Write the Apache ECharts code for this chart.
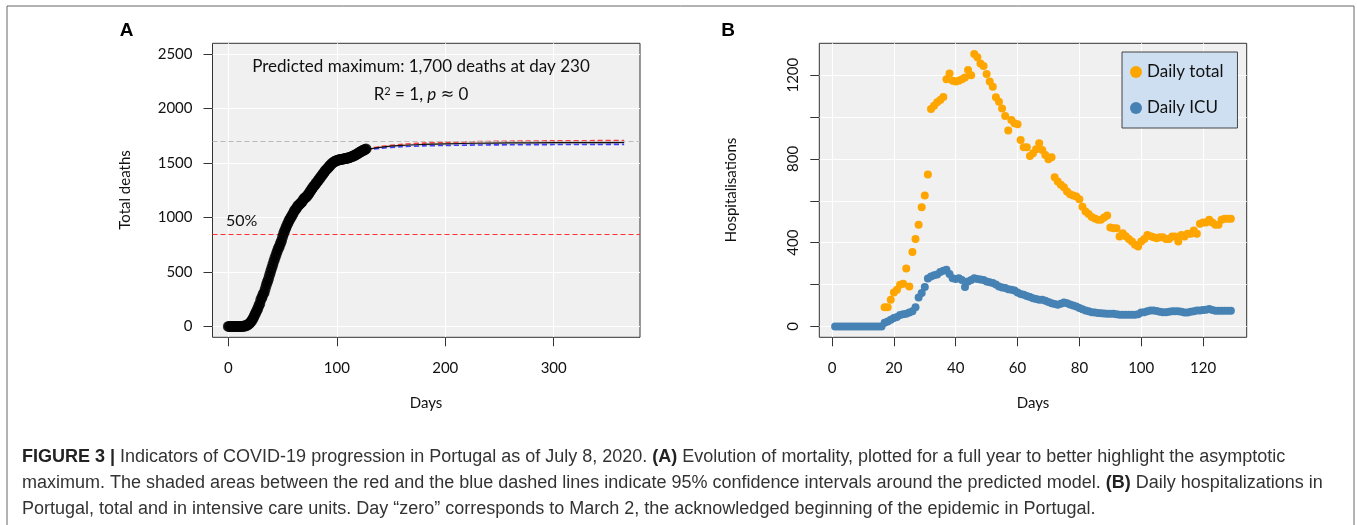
<!DOCTYPE html>
<html><head><meta charset="utf-8">
<script src="https://cdn.jsdelivr.net/npm/echarts@6/dist/echarts.min.js"></script>
<style>html,body{margin:0;padding:0;background:#fff}#c{width:1357px;height:525px}</style>
</head><body><div id="c"></div>
<script>
// ---------- Panel A: cumulative deaths (observed, day 0 onward) ----------
const deathsStartDay = 0;
const deaths = [0,0,0,0,0,0,0,0,0,0,0,0,0,
  1,2,3,6,12,14,23,33,43,60,
  76,100,119,140,160,187,209,246,266,295,
  311,345,380,409,435,470,504,535,567,599,
  629,657,687,714,735,762,785,820,854,880,
  903,928,948,973,989,1007,1023,1043,1063,1074,
  1089,1105,1114,1126,1135,1144,1163,1175,1184,1190,
  1203,1218,1231,1247,1263,1277,1289,1302,1316,1330,
  1342,1356,1369,1383,1396,1410,1424,1436,1447,1455,
  1470,1480,1490,1500,1508,1514,1519,1523,1527,1530,
  1532,1534,1536,1538,1540,1542,1544,1546,1549,1552,
  1556,1560,1564,1569,1574,1579,1585,1592,1598,1604,
  1610,1615,1620,1625,1630];
// model fit and 95% CI (sampled days)
const modelDays  = [127, 140, 160, 180, 200, 230, 260, 300, 340, 365];
const modelFit   = [1625,1645,1662,1671,1677,1682,1685,1687,1688,1689];
const modelUpper = [1628,1652,1672,1684,1691,1697,1701,1704,1706,1707];
const modelLower = [1622,1636,1650,1658,1662,1666,1668,1670,1671,1672];
const predictedMax = 1700;
const halfMax = 850;
const xTicksA = [0, 100, 200, 300];
const yTicksA = [0, 500, 1000, 1500, 2000, 2500];

// ---------- Panel B: daily hospitalisations ----------
const totalStartDay = 17;
const dailyTotal = [91,91,127,162,175,199,204,277,191,355,
  417,485,569,625,725,1038,1054,1070,1081,1095,
  1180,1208,1173,1169,1173,1180,1189,1224,1200,1301,
  1285,1256,1243,1205,1169,1145,1094,1073,1041,1005,
  935,986,970,965,890,855,855,814,827,846,
  875,843,819,798,808,712,692,676,665,644,
  631,625,620,607,572,549,537,522,515,509,
  509,520,530,472,469,469,429,445,430,417,
  405,390,382,405,418,437,430,426,421,426,
  426,417,417,429,429,405,437,429,442,442,
  458,442,490,496,496,509,496,485,485,509,
  514,514,514];
const icuStartDay = 1;
const dailyICU = [0,0,0,0,0,0,0,0,0,0,0,0,0,0,0,0,
  18,24,32,40,45,54,58,60,67,72,91,138,159,188,
  229,238,244,248,260,266,270,250,230,226,
  230,222,188,215,222,230,226,224,222,215,
  211,207,200,191,186,183,178,175,172,162,
  155,151,145,140,135,131,127,127,122,116,
  111,107,103,108,114,111,105,100,95,88,
  82,76,72,68,66,64,63,62,61,60,
  60,58,56,56,56,56,56,56,58,67,
  68,72,76,76,73,70,68,68,70,72,
  72,72,70,67,67,70,72,76,76,78,
  80,83,78,75,75,75,75,75,75];
const xTicksB = [0, 20, 40, 60, 80, 100, 120];
const yTicksB = [0, 200, 400, 600, 800, 1000, 1200];
const yLabelsB = [0, 400, 800, 1200];

// ---------- build ----------
const deathPts = deaths.map((v, i) => [deathsStartDay + i, v]);
const fitPts = modelDays.map((d, i) => [d, modelFit[i]]);
const upPts = modelDays.map((d, i) => [d, modelUpper[i]]);
const loPts = modelDays.map((d, i) => [d, modelLower[i]]);
const bandData = modelDays.map((d, i) => [d, modelLower[i], modelUpper[i]]);
const totalPts = dailyTotal.map((v, i) => [totalStartDay + i, v]);
const icuPts = dailyICU.map((v, i) => [icuStartDay + i, v]);

const FONT = 'Lato, "Open Sans", sans-serif';
const CAP = '"Liberation Sans", Arial, sans-serif';
const CAPCOL = '#333333';
const plain = v => String(v);
const axisLbl = {fontFamily: FONT, fontSize: 15, color: '#111', formatter: plain};
const tickStyle = {show: true, inside: false, length: 9, lineStyle: {color: '#333', width: 1}};
const splitStyle = {show: true, lineStyle: {color: '#ffffff', width: 1}};
const noLine = {show: false, onZero: false};

const chart = echarts.init(document.getElementById('c'), null, {renderer: 'canvas'});
chart.setOption({
  animation: false,
  backgroundColor: '#ffffff',
  grid: [
    {left: 212.5, top: 43.3, width: 427.5, height: 294, show: true, backgroundColor: '#f0f0f0', borderColor: '#333', borderWidth: 1},
    {left: 819.3, top: 43.3, width: 427.4, height: 294, show: true, backgroundColor: '#f0f0f0', borderColor: '#333', borderWidth: 1}
  ],
  xAxis: [
    {gridIndex: 0, type: 'value', min: -14.6, max: 379.6, axisLine: noLine,
     axisTick: Object.assign({customValues: xTicksA}, tickStyle),
     axisLabel: Object.assign({customValues: xTicksA, margin: 23}, axisLbl),
     splitLine: splitStyle},
    {gridIndex: 1, type: 'value', min: -4.12, max: 134.12, axisLine: noLine,
     axisTick: Object.assign({customValues: xTicksB}, tickStyle),
     axisLabel: Object.assign({customValues: xTicksB, margin: 23}, axisLbl),
     splitLine: splitStyle}
  ],
  yAxis: [
    {gridIndex: 0, type: 'value', min: -100, max: 2600, axisLine: noLine,
     axisTick: Object.assign({customValues: yTicksA}, tickStyle),
     axisLabel: Object.assign({customValues: yTicksA, margin: 20}, axisLbl),
     splitLine: splitStyle},
    {gridIndex: 1, type: 'value', min: -52, max: 1352, axisLine: noLine,
     axisTick: Object.assign({customValues: yTicksB}, tickStyle),
     axisLabel: Object.assign({customValues: yLabelsB, margin: 19, rotate: 90}, axisLbl),
     splitLine: splitStyle}
  ],
  legend: {
    data: ['Daily total', 'Daily ICU'], orient: 'vertical', left: 1122, top: 52,
    backgroundColor: '#cddff0', borderColor: '#444', borderWidth: 1, borderRadius: 0,
    padding: [10, 14, 10, 8], itemGap: 16, itemWidth: 12, itemHeight: 12, icon: 'circle',
    textStyle: {fontFamily: FONT, fontSize: 17, color: '#111', lineHeight: 20}
  },
  series: [
    {type: 'custom', xAxisIndex: 0, yAxisIndex: 0, data: bandData, silent: true, z: 2,
     renderItem: function (params, api) {
       if (params.dataIndex !== 0) return null;
       const top = bandData.map(r => api.coord([r[0], r[2]]));
       const bot = bandData.slice().reverse().map(r => api.coord([r[0], r[1]]));
       return {type: 'polygon', shape: {points: top.concat(bot)}, style: {fill: 'rgba(120,120,120,0.25)'}};
     },
     markLine: {silent: true, symbol: ['none', 'none'], label: {show: false},
       data: [
         {yAxis: predictedMax, lineStyle: {color: '#bbbbbb', type: [5, 3], width: 1}},
         {yAxis: halfMax, lineStyle: {color: '#ff3333', type: [5, 3], width: 1}}
       ]}},
    {type: 'line', xAxisIndex: 0, yAxisIndex: 0, data: upPts, symbol: 'none', silent: true, smooth: 0.3, z: 3,
     lineStyle: {color: '#ff2020', width: 1.6, type: [5, 3], opacity: 0.85}},
    {type: 'line', xAxisIndex: 0, yAxisIndex: 0, data: loPts, symbol: 'none', silent: true, smooth: 0.3, z: 3,
     lineStyle: {color: '#2020ff', width: 1.6, type: [5, 3], opacity: 0.85}},
    {type: 'line', xAxisIndex: 0, yAxisIndex: 0, data: fitPts, symbol: 'none', silent: true, smooth: 0.3, z: 4,
     lineStyle: {color: '#111', width: 1.2}},
    {type: 'scatter', name: 'Deaths', xAxisIndex: 0, yAxisIndex: 0, data: deathPts, symbolSize: 11, z: 5,
     itemStyle: {color: '#000'}},
    {type: 'scatter', name: 'Daily total', xAxisIndex: 1, yAxisIndex: 1, data: totalPts, symbolSize: 8, z: 5,
     itemStyle: {color: '#ffa500', opacity: 1}},
    {type: 'scatter', name: 'Daily ICU', xAxisIndex: 1, yAxisIndex: 1, data: icuPts, symbolSize: 8, z: 5,
     itemStyle: {color: '#4682b4', opacity: 1}}
  ],
  graphic: [
    {type: 'rect', z: 100, shape: {x: 7, y: 6, width: 1347, height: 530}, style: {fill: 'none', stroke: '#666', lineWidth: 1}, silent: true},
    {type: 'text', z: 100, x: 126.5, y: 31, style: {text: 'A', font: 'bold 19px ' + CAP, fill: '#000', textAlign: 'center', textVerticalAlign: 'middle'}},
    {type: 'text', z: 100, x: 728, y: 31, style: {text: 'B', font: 'bold 19px ' + CAP, fill: '#000', textAlign: 'center', textVerticalAlign: 'middle'}},
    {type: 'text', z: 100, x: 421, y: 67, style: {text: 'Predicted maximum: 1,700 deaths at day 230', font: '17px ' + FONT, fill: '#111', textAlign: 'center', textVerticalAlign: 'middle'}},
    {type: 'text', z: 100, x: 421, y: 95, style: {
      text: 'R{sup|2} = 1, {it|p} {ap|≈} 0', font: '17px ' + FONT, fill: '#111', textAlign: 'center', textVerticalAlign: 'middle',
      rich: {sup: {fontSize: 11, fontFamily: FONT, fill: '#111', verticalAlign: 'top', padding: [0, 0, 8, 0]},
             it: {fontSize: 17, fontFamily: FONT, fontStyle: 'italic', fill: '#111'},
             ap: {fontSize: 16, fontFamily: '"DejaVu Sans", sans-serif', fill: '#111'}}}},
    {type: 'text', z: 100, x: 226, y: 221, style: {text: '50%', font: '16px ' + FONT, fill: '#111', textAlign: 'left', textVerticalAlign: 'middle'}},
    {type: 'text', z: 100, x: 125, y: 190, rotation: Math.PI / 2, style: {text: 'Total deaths', font: '15px ' + FONT, fill: '#111', textAlign: 'center', textVerticalAlign: 'middle'}},
    {type: 'text', z: 100, x: 731, y: 190, rotation: Math.PI / 2, style: {text: 'Hospitalisations', font: '15px ' + FONT, fill: '#111', textAlign: 'center', textVerticalAlign: 'middle'}},
    {type: 'text', z: 100, x: 426, y: 403, style: {text: 'Days', font: '15px ' + FONT, fill: '#111', textAlign: 'center', textVerticalAlign: 'middle'}},
    {type: 'text', z: 100, x: 1033, y: 403, style: {text: 'Days', font: '15px ' + FONT, fill: '#111', textAlign: 'center', textVerticalAlign: 'middle'}},
    {type: 'text', z: 100, x: 22, y: 457, style: {
      text: '{b|FIGURE 3 |} Indicators of COVID-19 progression in Portugal as of July 8, 2020. {b|(A)} Evolution of mortality, plotted for a full year to better highlight the asymptotic',
      font: '18px ' + CAP, fill: CAPCOL, textVerticalAlign: 'middle',
      rich: {b: {fontWeight: 'bold', fontSize: 18, fontFamily: CAP, fill: '#222'}}}},
    {type: 'text', z: 100, x: 22, y: 483, style: {
      text: 'maximum. The shaded areas between the red and the blue dashed lines indicate 95% confidence intervals around the predicted model. {b|(B)} Daily hospitalizations in',
      font: '18px ' + CAP, fill: CAPCOL, textVerticalAlign: 'middle',
      rich: {b: {fontWeight: 'bold', fontSize: 18, fontFamily: CAP, fill: '#222'}}}},
    {type: 'text', z: 100, x: 22, y: 509, style: {
      text: 'Portugal, total and in intensive care units. Day “zero” corresponds to March 2, the acknowledged beginning of the epidemic in Portugal.',
      font: '18px ' + CAP, fill: CAPCOL, textVerticalAlign: 'middle'}}
  ]
});
</script></body></html>
